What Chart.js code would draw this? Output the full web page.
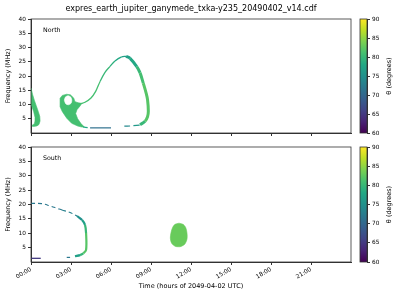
<!DOCTYPE html>
<html>
<head>
<meta charset="utf-8">
<script src="https://cdn.jsdelivr.net/npm/chart.js@4.4.1/dist/chart.umd.min.js"></script>
<style>
  html, body { margin: 0; padding: 0; background: #fff; }
  #wrap { position: relative; width: 400px; height: 300px; }
  .box { position: absolute; }
</style>
</head>
<body>
<div id="wrap">
  <div class="box" style="left:0;top:0;width:355px;height:140px"><canvas id="north"></canvas></div>
  <div class="box" style="left:0;top:140px;width:355px;height:160px"><canvas id="south"></canvas></div>
  <div class="box" style="left:355px;top:0;width:45px;height:140px"><canvas id="cbNorth"></canvas></div>
  <div class="box" style="left:355px;top:140px;width:45px;height:160px"><canvas id="cbSouth"></canvas></div>
</div>
<script>
const titleText = 'expres_earth_jupiter_ganymede_txka-y235_20490402_v14.cdf';
const hourTicks = [0, 3, 6, 9, 12, 15, 18, 21];
const hourLabels = ['00:00', '03:00', '06:00', '09:00', '12:00', '15:00', '18:00', '21:00'];
const freqTicks = [5, 10, 15, 20, 25, 30, 35, 40];
const thetaTicks = [60, 65, 70, 75, 80, 85, 90];

// North: closed outlines (hours, MHz)
const nCrescentH = [0.0, 0.12, 0.25, 0.4, 0.55, 0.66, 0.68, 0.6, 0.45, 0.2, 0.08, 0.1, 0.25, 0.3, 0.3, 0.2, 0.05, 0.0, 0.0];
const nCrescentF = [15.8, 13.5, 11.5, 9.5, 7.5, 5.8, 4.2, 3.0, 2.5, 2.3, 2.4, 2.8, 3.2, 4.2, 5.5, 7.5, 9.5, 11.0, 15.8];
const nCrescentTheta = 81;

const nLoopH = [2.68, 2.95, 3.2, 3.3, 3.55, 3.8, 3.7, 3.45, 3.35, 3.5, 3.75, 4.0, 3.8, 3.5, 3.05, 2.68, 2.35, 2.18, 2.18, 2.35, 2.68];
const nLoopF = [13.6, 13.4, 12.3, 11.0, 10.6, 10.4, 9.6, 8.2, 6.8, 5.0, 3.3, 2.1, 2.1, 2.45, 3.4, 5.2, 7.5, 9.2, 12.2, 13.2, 13.6];
const nLoopTheta = 81;

const nHoleH = [2.5, 2.58, 2.78, 2.98, 3.06, 3.0, 2.8, 2.6, 2.5];
const nHoleF = [11.5, 12.6, 13.05, 12.6, 11.5, 10.4, 9.9, 10.3, 11.5];

// North: traced curves (hours, MHz, theta)
const nRiseH = [3.7, 4.05, 4.5, 4.85, 5.18, 5.55, 5.93, 6.3, 6.8, 7.13];
const nRiseF = [10.2, 10.8, 12.3, 14.6, 18.1, 21.3, 23.4, 25.3, 26.7, 26.9];
const nRiseT = [81, 81, 81, 81, 80, 80, 79, 78, 77, 77];

const nFallH = [7.13, 7.43, 7.93, 8.18, 8.42, 8.63, 8.74, 8.8, 8.74, 8.55, 8.18];
const nFallF = [26.9, 26.2, 23.3, 21.1, 17.5, 14.1, 11.7, 7.6, 5.7, 4.1, 2.9];
const nFallT = [77, 78, 80, 81, 82, 82, 82, 82, 82, 80, 78];

const nDashAH = [7.68, 8.15], nDashAF = [2.6, 2.75], nDashAT = [76, 76];
const nDashBH = [7.0, 7.43], nDashBF = [2.4, 2.45], nDashBT = [74, 74];
const nLowH = [4.43, 6.0], nLowF = [1.8, 1.8], nLowT = [71, 71];
const nTailH = [3.9, 4.25], nTailF = [2.1, 1.9], nTailT = [78, 78];

// South
const sLowH = [0, 0.73], sLowF = [1.28, 1.28], sLowT = [65, 65];
const sTopH = [0, 0.8, 1.43, 1.95, 2.33, 2.93, 3.45];
const sTopF = [20.4, 20.3, 19.5, 18.7, 18.1, 17.2, 16.0];
const sTopT = [72, 72, 72, 72, 73, 73, 74];
const sBendH = [3.45, 3.83, 4.05, 4.13, 4.13, 3.92, 3.68, 3.3];
const sBendF = [16.0, 14.6, 12.9, 10.1, 4.2, 3.0, 2.4, 2.0];
const sBendT = [75, 77, 80, 82, 82, 80, 77, 75];
const sDashH = [2.68, 2.93], sDashF = [1.6, 1.6], sDashT = [72, 72];
const sBlobH = [11.1, 11.4, 11.6, 11.7, 11.7, 11.55, 11.25, 11.05, 10.8, 10.55, 10.45, 10.5, 10.62, 10.8, 11.1];
const sBlobF = [13.5, 13.1, 12.0, 10.0, 8.0, 6.3, 5.4, 5.3, 5.5, 6.5, 8.3, 10.2, 12.0, 13.1, 13.5];
const sBlobTheta = 83;

const viridisStops = ['#440154', '#482475', '#414487', '#355f8d', '#2a788e', '#21918c',
                      '#22a884', '#44bf70', '#7ad151', '#bddf26', '#fde725'];

function hexToRgb(h) {
    return [1, 3, 5].map(i => parseInt(h.slice(i, i + 2), 16));
}

function viridis(theta) {
    const t = Math.max(0, Math.min(1, (theta - 60) / 30));
    const p = t * (viridisStops.length - 1);
    const i = Math.min(Math.floor(p), viridisStops.length - 2);
    const f = p - i;
    const a = hexToRgb(viridisStops[i]);
    const b = hexToRgb(viridisStops[i + 1]);
    const c = a.map((v, k) => Math.round(v + (b[k] - v) * f));
    return `rgb(${c[0]},${c[1]},${c[2]})`;
}

function toPoints(hours, freq) {
    return hours.map((h, i) => ({ x: h, y: freq[i] }));
}

function curve(hours, freq, theta, width, dash) {
    return {
        data: toPoints(hours, freq),
        showLine: true,
        pointRadius: 0,
        borderWidth: width,
        borderColor: viridis(theta[0]),
        borderDash: dash || [],
        tension: 0.35,
        fill: false,
        order: 2,
        segment: { borderColor: c => viridis(theta[c.p0DataIndex]) }
    };
}

function shape(hours, freq, color, order, tension) {
    return {
        data: toPoints(hours, freq),
        showLine: true,
        pointRadius: 0,
        borderWidth: 0.6,
        borderColor: color,
        backgroundColor: color,
        tension: tension || 0,
        fill: 'shape',
        order: order
    };
}

const framePlugin = {
    id: 'frame',
    afterDatasetsDraw(chart) {
        const { ctx, chartArea: a } = chart;
        ctx.save();
        ctx.strokeStyle = '#333';
        ctx.lineWidth = 0.8;
        ctx.strokeRect(a.left, a.top, a.right - a.left, a.bottom - a.top);
        ctx.restore();
    }
};

const textPlugin = {
    id: 'panelText',
    afterDraw(chart, args, opts) {
        const { ctx, chartArea: a } = chart;
        (opts.items || []).forEach(it => {
            ctx.save();
            ctx.font = `${it.size}px 'DejaVu Sans'`;
            ctx.fillStyle = '#000';
            ctx.textAlign = it.align || 'left';
            ctx.textBaseline = 'middle';
            const x = it.x === 'center' ? (a.left + a.right) / 2 : a.left + it.x;
            const y = it.y === 'middle' ? (a.top + a.bottom) / 2 : a.top + it.y;
            ctx.translate(x, y);
            if (it.rotate) ctx.rotate(it.rotate);
            ctx.fillText(it.text, 0, 0);
            ctx.restore();
        });
    }
};

Chart.defaults.font.family = "'DejaVu Sans', sans-serif";
Chart.defaults.color = '#000';

function panelOptions(showLabels, padTop, xHeight, texts) {
    return {
        responsive: true,
        maintainAspectRatio: false,
        animation: false,
        layout: { padding: { top: padTop, right: 4, left: 0, bottom: 0 } },
        plugins: {
            legend: { display: false },
            tooltip: { enabled: false },
            panelText: { items: texts }
        },
        scales: {
            x: {
                type: 'linear',
                min: 0,
                max: 24,
                afterBuildTicks: s => { s.ticks = hourTicks.map(v => ({ value: v })); },
                afterFit: s => { s.height = xHeight; },
                grid: { drawOnChartArea: false, tickLength: 3, color: '#333' },
                border: { color: '#333' },
                ticks: {
                    display: showLabels,
                    font: { size: 5.8 },
                    maxRotation: 30,
                    minRotation: 30,
                    padding: 1,
                    callback: v => hourLabels[hourTicks.indexOf(v)]
                },
                title: {
                    display: showLabels,
                    text: 'Time (hours of 2049-04-02 UTC)',
                    font: { size: 6.5 },
                    padding: { top: 0, bottom: 10 }
                }
            },
            y: {
                min: 0,
                max: 40,
                afterBuildTicks: s => { s.ticks = freqTicks.map(v => ({ value: v })); },
                afterFit: s => { s.width = 31; },
                grid: { drawOnChartArea: false, tickLength: 3, color: '#333' },
                border: { color: '#333' },
                ticks: { font: { size: 5.8 }, padding: 2 },
                title: {
                    display: true,
                    text: 'Frequency (MHz)',
                    font: { size: 6.5 },
                    padding: { top: 4, bottom: 1 }
                }
            }
        }
    };
}

new Chart(document.getElementById('north'), {
    type: 'scatter',
    data: {
        datasets: [
            shape(nHoleH, nHoleF, '#ffffff', 0, 0.3),
            shape(nCrescentH, nCrescentF, viridis(nCrescentTheta), 3),
            shape(nLoopH, nLoopF, viridis(nLoopTheta), 3),
            curve(nRiseH, nRiseF, nRiseT, 1.3),
            curve(nFallH, nFallF, nFallT, 3),
            curve(nDashAH, nDashAF, nDashAT, 1.2),
            curve(nDashBH, nDashBF, nDashBT, 1.2),
            curve(nLowH, nLowF, nLowT, 1.2),
            curve(nTailH, nTailF, nTailT, 1.2)
        ]
    },
    options: panelOptions(false, 19, 7, [
        { text: titleText, x: 'center', y: -10, size: 8, align: 'center' },
        { text: 'North', x: 12, y: 11, size: 6.3 }
    ]),
    plugins: [framePlugin, textPlugin]
});

new Chart(document.getElementById('south'), {
    type: 'scatter',
    data: {
        datasets: [
            shape(sBlobH, sBlobF, viridis(sBlobTheta), 3, 0.3),
            curve(sLowH, sLowF, sLowT, 1.3),
            curve(sTopH, sTopF, sTopT, 1.1, [4, 3]),
            curve(sBendH, sBendF, sBendT, 2.2),
            curve(sDashH, sDashF, sDashT, 1.2)
        ]
    },
    options: panelOptions(true, 7, 38, [
        { text: 'South', x: 12, y: 11, size: 6.3 }
    ]),
    plugins: [framePlugin, textPlugin]
});

function colorbar(canvasId, padTop, padBottom) {
    return new Chart(document.getElementById(canvasId), {
        type: 'bar',
        data: {
            labels: ['theta'],
            datasets: [{
                data: [[thetaTicks[0], thetaTicks[thetaTicks.length - 1]]],
                barPercentage: 1,
                categoryPercentage: 1,
                backgroundColor: c => {
                    const area = c.chart.chartArea;
                    if (!area) return viridisStops[5];
                    const g = c.chart.ctx.createLinearGradient(0, area.bottom, 0, area.top);
                    viridisStops.forEach((col, i) => g.addColorStop(i / (viridisStops.length - 1), col));
                    return g;
                }
            }]
        },
        options: {
            responsive: true,
            maintainAspectRatio: false,
            animation: false,
            layout: { padding: { top: padTop, bottom: padBottom, left: 5, right: 0 } },
            plugins: {
                legend: { display: false },
                tooltip: { enabled: false },
                panelText: { items: [{ text: 'θ (degrees)', x: 29, y: 'middle', size: 6.5, align: 'center', rotate: -Math.PI / 2 }] }
            },
            scales: {
                x: { display: false },
                y: {
                    position: 'right',
                    min: 60,
                    max: 90,
                    afterBuildTicks: s => { s.ticks = thetaTicks.map(v => ({ value: v })); },
                    afterFit: s => { s.width = 33; },
                    grid: { drawOnChartArea: false, tickLength: 3, color: '#333' },
                    border: { color: '#333' },
                    ticks: { font: { size: 5.8 }, padding: 2 }
                }
            }
        },
        plugins: [framePlugin, textPlugin]
    });
}

colorbar('cbNorth', 19, 7);
colorbar('cbSouth', 7, 38);
</script>
</body>
</html>
